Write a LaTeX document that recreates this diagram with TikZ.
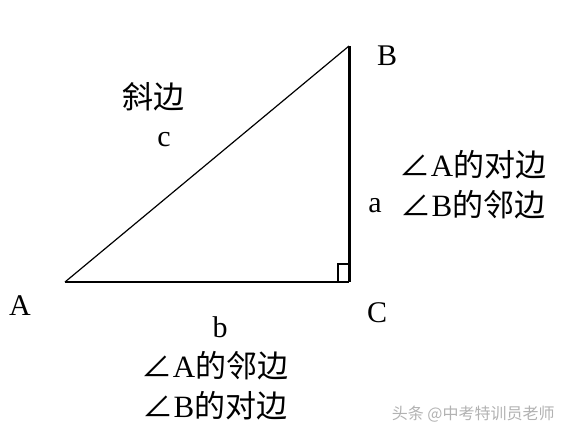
\documentclass[tikz,border=0pt]{standalone}
\usepackage{fontspec}
\setmainfont{Liberation Serif}
\newfontfamily\cjk{Noto Sans CJK SC}
\usepackage{tikz}
\newcommand{\ang}[1]{{\cjk ∠}#1}

\begin{document}
\begin{tikzpicture}[
  x=0.5pt, y=-0.5pt,
  lbl/.style={inner sep=0pt,font=\fontsize{15}{18}\selectfont},
  cn/.style={inner sep=0pt,align=center,font=\fontsize{15.5}{20}\selectfont},
  wmark/.style={gray!60,inner sep=0pt,anchor=east,font=\fontsize{8}{9}\selectfont\cjk}
]
\useasboundingbox (0,0) rectangle (566,438);
\coordinate (A) at (65,282);
\coordinate (C) at (349,282);
\coordinate (B) at (349,46);

\draw[line width=0.6pt] (A) -- (B);
\draw[line width=1pt] (A) -- (C);
\draw[line width=1.5pt] (C) -- (B);
\draw[line width=0.8pt] (338,282) -- (338,264) -- (349,264);

\node[lbl] (LA) at (20,306) {A};
\node[lbl] (LB) at (387,56) {B};
\node[lbl] (LC) at (377,313) {C};
\node[lbl] (La) at (375,206) {a};
\node[lbl] (Lb) at (220,327) {b};
\node[lbl] (Lc) at (164,140) {c};

\node[cn] (hyp) at (153,97) {\cjk 斜边};
\node[cn] (side) at (473,185) {\ang{A}{\cjk 的对边}\\\ang{B}{\cjk 的邻边}};
\node[cn] (base) at (215,386) {\ang{A}{\cjk 的邻边}\\\ang{B}{\cjk 的对边}};
\node[wmark] (wm) at (555,414) {头条 @中考特训员老师};
\end{tikzpicture}
\end{document}
